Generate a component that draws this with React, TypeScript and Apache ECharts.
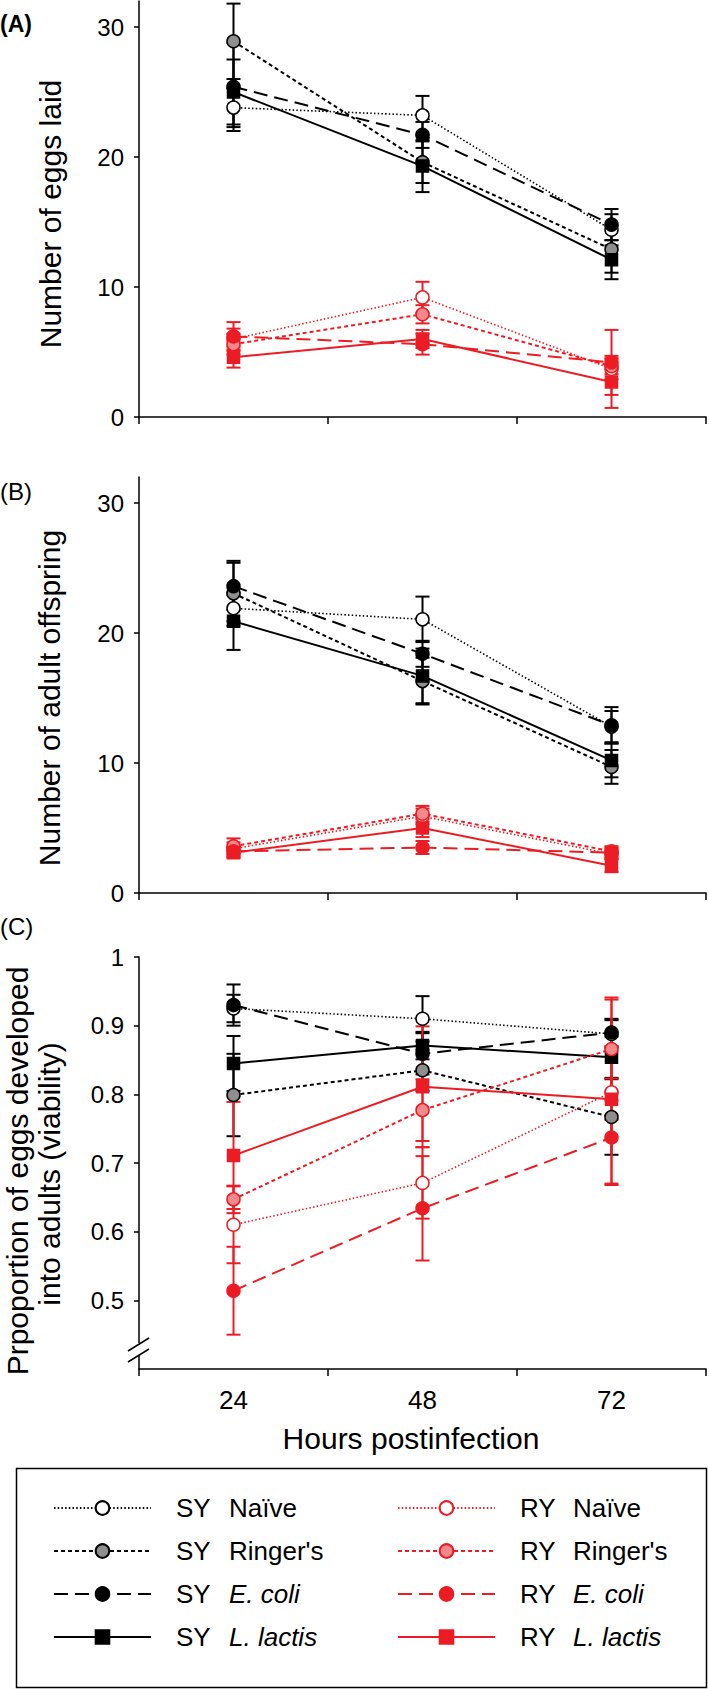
import { useEffect, useRef } from 'react';
import * as echarts from 'echarts';

// ---------- data ----------
const hours = ['24', '48', '72'];
const groupNames = [
  'SY Naïve', "SY Ringer's", 'SY E. coli', 'SY L. lactis',
  'RY Naïve', "RY Ringer's", 'RY E. coli', 'RY L. lactis',
];

// (A) Number of eggs laid: mean per group at 24/48/72 h
const eggsMean = [
  [23.8, 23.2, 14.4],
  [28.9, 19.6, 12.9],
  [25.4, 21.7, 14.8],
  [25.0, 19.3, 12.1],
  [6.0, 9.2, 3.7],
  [5.6, 7.9, 3.9],
  [6.2, 5.6, 4.2],
  [4.6, 6.0, 2.7],
];
const eggsErr = [
  [1.5, 1.5, 1.2],
  [2.9, 1.6, 1.8],
  [3.4, 1.0, 1.2],
  [2.5, 2.0, 1.5],
  [0.8, 1.2, 0.8],
  [0.8, 0.7, 0.6],
  [1.1, 0.8, 2.5],
  [0.8, 0.7, 2.0],
];

// (B) Number of adult offspring
const offspringMean = [
  [21.9, 21.05, 12.8],
  [23.05, 16.3, 9.7],
  [23.6, 18.4, 12.9],
  [20.9, 16.7, 10.2],
  [3.4, 5.9, 3.0],
  [3.6, 6.1, 3.2],
  [3.2, 3.5, 3.1],
  [3.1, 5.0, 2.1],
];
const offspringErr = [
  [1.0, 1.75, 1.2],
  [2.5, 1.8, 1.3],
  [1.8, 1.0, 1.4],
  [2.2, 2.1, 1.3],
  [0.5, 0.6, 0.4],
  [0.6, 0.6, 0.4],
  [0.4, 0.5, 0.4],
  [0.4, 0.7, 0.5],
];

// (C) Proportion of eggs developed into adults (viability)
const viabilityMean = [
  [0.925, 0.910, 0.888],
  [0.799, 0.835, 0.767],
  [0.930, 0.859, 0.890],
  [0.845, 0.871, 0.854],
  [0.610, 0.671, 0.803],
  [0.647, 0.777, 0.866],
  [0.514, 0.634, 0.737],
  [0.711, 0.811, 0.793],
];
const viabilityErr = [
  [0.02, 0.033, 0.02],
  [0.06, 0.03, 0.055],
  [0.03, 0.03, 0.02],
  [0.04, 0.02, 0.03],
  [0.056, 0.052, 0.135],
  [0.02, 0.045, 0.075],
  [0.064, 0.076, 0.067],
  [0.078, 0.088, 0.03],
];

const countTicks = [0, 10, 20, 30];
const viabilityTicks = [0.5, 0.6, 0.7, 0.8, 0.9, 1];

// ---------- styles ----------
const FONT = "'Liberation Sans', Arial, Helvetica, sans-serif";
const RED = '#ec1c24';
const styles = [
  { color: '#000', fill: '#ffffff', symbol: 'circle', dash: [1.5, 2.2], width: 1.6 },
  { color: '#000', fill: '#8e8e8e', symbol: 'circle', dash: [4, 3], width: 2 },
  { color: '#000', fill: '#000000', symbol: 'circle', dash: [14, 7], width: 2 },
  { color: '#000', fill: '#000000', symbol: 'rect', dash: 'solid', width: 2 },
  { color: RED, fill: '#ffffff', symbol: 'circle', dash: [1.5, 2.2], width: 1.6 },
  { color: RED, fill: '#f4898c', symbol: 'circle', dash: [4, 3], width: 2 },
  { color: RED, fill: RED, symbol: 'circle', dash: [14, 7], width: 2 },
  { color: RED, fill: RED, symbol: 'rect', dash: 'solid', width: 2 },
];

const grids = [
  { left: 139, top: 1, width: 567, height: 416 },
  { left: 139, top: 477, width: 567, height: 416 },
  { left: 139, top: 957, width: 567, height: 412 },
];

function buildOption() {
  const panels = [
    { mean: eggsMean, err: eggsErr },
    { mean: offspringMean, err: offspringErr },
    { mean: viabilityMean, err: viabilityErr },
  ];
  const series: any[] = [];
  panels.forEach((p, gi) => {
    p.mean.forEach((m, si) => {
      const st = styles[si];
      const e = p.err[si];
      series.push({
        type: 'custom',
        xAxisIndex: gi,
        yAxisIndex: gi,
        silent: true,
        z: 2,
        data: m.map((v, k) => [k, v - e[k], v + e[k]]),
        encode: { x: 0, y: [1, 2] },
        renderItem: (_params: any, api: any) => {
          const c = api.value(0);
          const lo = api.coord([c, api.value(1)]);
          const hi = api.coord([c, api.value(2)]);
          const hw = 7;
          const ls = { stroke: st.color, lineWidth: 2 };
          return {
            type: 'group',
            children: [
              { type: 'line', shape: { x1: lo[0], y1: lo[1], x2: hi[0], y2: hi[1] }, style: ls },
              { type: 'line', shape: { x1: hi[0] - hw, y1: hi[1], x2: hi[0] + hw, y2: hi[1] }, style: ls },
              { type: 'line', shape: { x1: lo[0] - hw, y1: lo[1], x2: lo[0] + hw, y2: lo[1] }, style: ls },
            ],
          };
        },
      });
    });
    p.mean.forEach((m, si) => {
      const st = styles[si];
      series.push({
        type: 'line',
        name: groupNames[si],
        xAxisIndex: gi,
        yAxisIndex: gi,
        z: 3,
        data: m,
        symbol: st.symbol,
        symbolSize: st.symbol === 'rect' ? 12 : 13,
        showAllSymbol: true,
        silent: true,
        lineStyle: { color: st.color, width: st.width, type: st.dash },
        itemStyle: { color: st.fill, borderColor: st.color, borderWidth: 1.5 },
      });
    });
  });

  const axisLine = { show: true, lineStyle: { color: '#000', width: 1.5 } };
  const xAxis = grids.map((_, gi) => ({
    gridIndex: gi,
    type: 'category',
    data: hours,
    boundaryGap: true,
    axisLine,
    axisTick: { show: true, length: 7, alignWithLabel: false, lineStyle: { color: '#000', width: 1.5 } },
    axisLabel: { show: gi === 2, fontSize: 26, color: '#000', fontFamily: FONT, margin: 18 },
    splitLine: { show: false },
  }));
  const yAxis = grids.map((_, gi) => {
    const ticks = gi === 2 ? viabilityTicks : countTicks;
    return {
      gridIndex: gi,
      type: 'value',
      min: gi === 2 ? 0.4 : 0,
      max: gi === 2 ? 1 : 32,
      axisLine,
      axisTick: { show: true, length: 5, customValues: ticks, lineStyle: { color: '#000', width: 1.5 } },
      axisLabel: { fontSize: 24, color: '#000', fontFamily: FONT, margin: 15, customValues: ticks },
      splitLine: { show: false },
    };
  });

  const legendRich = {
    sp: { width: 20, fontSize: 26, fontFamily: FONT, lineHeight: 30 },
    g: { width: 53, fontSize: 26, fontFamily: FONT, color: '#000', lineHeight: 30 },
    n: { fontSize: 26, fontFamily: FONT, color: '#000', lineHeight: 30 },
    i: { fontSize: 26, fontFamily: FONT, color: '#000', fontStyle: 'italic', lineHeight: 30 },
  };
  const legendFormatter = (name: string) => {
    const idx = name.indexOf(' ');
    const grp = name.slice(0, idx);
    const trt = name.slice(idx + 1);
    const italic = trt === 'E. coli' || trt === 'L. lactis';
    return `{sp| }{g|${grp}}{${italic ? 'i' : 'n'}|${trt}}`;
  };
  const legendBase = {
    orient: 'vertical',
    top: 1490,
    itemWidth: 97,
    itemHeight: 17,
    itemGap: 17,
    selectedMode: false,
    formatter: legendFormatter,
    textStyle: { fontSize: 26, fontFamily: FONT, color: '#000', rich: legendRich },
  };

  const titleStyle = { fill: '#000', font: `30px ${FONT}`, textAlign: 'center', textVerticalAlign: 'middle' };

  return {
    animation: false,
    backgroundColor: '#fff',
    grid: grids,
    xAxis,
    yAxis,
    series,
    legend: [
      { ...legendBase, left: 48, data: groupNames.slice(0, 4) },
      { ...legendBase, left: 392, data: groupNames.slice(4) },
    ],
    graphic: [
      { type: 'text', left: 0, top: 12, style: { text: '(A)', fill: '#000', font: `bold 23px ${FONT}` } },
      { type: 'text', left: 0, top: 479, style: { text: '(B)', fill: '#000', font: `24px ${FONT}` } },
      { type: 'text', left: 0, top: 914, style: { text: '(C)', fill: '#000', font: `24px ${FONT}` } },
      { type: 'text', x: 50, y: 214, rotation: Math.PI / 2, style: { ...titleStyle, text: 'Number of eggs laid' } },
      { type: 'text', x: 49, y: 698, rotation: Math.PI / 2, style: { ...titleStyle, text: 'Number of adult offspring' } },
      { type: 'text', x: 17, y: 1171, rotation: Math.PI / 2, style: { ...titleStyle, text: 'Prpoportion of eggs developed' } },
      { type: 'text', x: 49, y: 1174, rotation: Math.PI / 2, style: { ...titleStyle, text: 'into adults (viability)' } },
      { type: 'text', x: 411, y: 1438, style: { ...titleStyle, text: 'Hours postinfection' } },
      { type: 'rect', shape: { x: 134, y: 1343, width: 10, height: 12 }, style: { fill: '#fff' }, z: 10 },
      { type: 'line', shape: { x1: 128, y1: 1351, x2: 149, y2: 1338 }, style: { stroke: '#000', lineWidth: 1.5 }, z: 11 },
      { type: 'line', shape: { x1: 128, y1: 1362, x2: 149, y2: 1349 }, style: { stroke: '#000', lineWidth: 1.5 }, z: 11 },
      { type: 'rect', shape: { x: 16.5, y: 1468.5, width: 690, height: 219 }, style: { fill: 'none', stroke: '#000', lineWidth: 1.5 } },
    ],
  };
}

export default function App() {
  const ref = useRef<HTMLDivElement>(null);
  useEffect(() => {
    if (!ref.current) return;
    const chart = echarts.init(ref.current, undefined, { renderer: 'svg' });
    chart.setOption(buildOption() as any);
    return () => chart.dispose();
  }, []);
  return (
    <div
      ref={ref}
      style={{ position: 'absolute', left: 0, top: 0, width: 709, height: 1689, background: '#fff' }}
    />
  );
}
